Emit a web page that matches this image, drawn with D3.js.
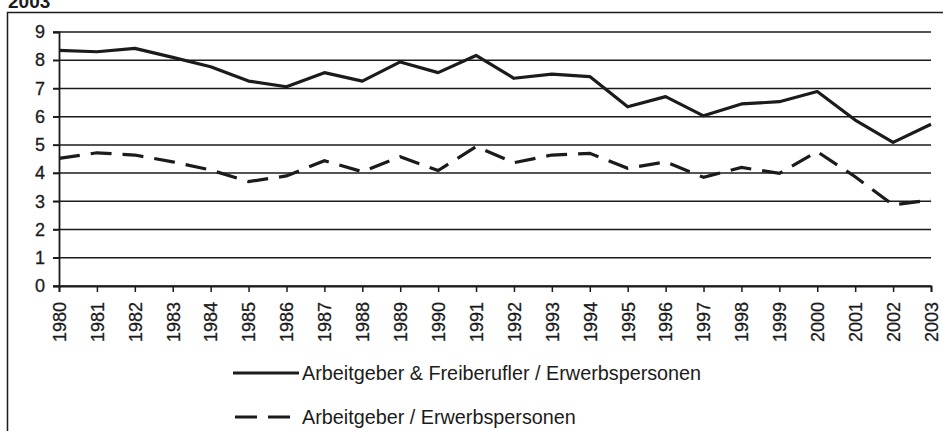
<!DOCTYPE html>
<html>
<head>
<meta charset="utf-8">
<script src="https://cdn.jsdelivr.net/npm/d3@7"></script>
<style>
	body { margin: 0; background: #fff; }
	svg { display: block; font-family: "Liberation Sans", Arial, sans-serif; }
</style>
</head>
<body>
<svg width="943" height="431"></svg>
<script>
var years = [1980, 1981, 1982, 1983, 1984, 1985, 1986, 1987, 1988, 1989, 1990, 1991,
	1992, 1993, 1994, 1995, 1996, 1997, 1998, 1999, 2000, 2001, 2002, 2003];

var freiberufler = [8.35, 8.30, 8.42, 8.10, 7.77, 7.26, 7.06, 7.56, 7.26, 7.94, 7.56, 8.17,
	7.36, 7.51, 7.42, 6.35, 6.71, 6.03, 6.45, 6.53, 6.89, 5.88, 5.09, 5.73];

var arbeitgeber = [4.52, 4.72, 4.64, 4.40, 4.11, 3.70, 3.90, 4.44, 4.05, 4.58, 4.09, 4.94,
	4.37, 4.64, 4.70, 4.17, 4.40, 3.85, 4.20, 3.99, 4.76, 3.87, 2.87, 3.05];

var yTicks = [0, 1, 2, 3, 4, 5, 6, 7, 8, 9];

var seriesNames = ["Arbeitgeber & Freiberufler / Erwerbspersonen", "Arbeitgeber / Erwerbspersonen"];

var ink = "#1b1b1b";

var svg = d3.select("svg");

// outer frame, cut off at the right and bottom like the scan
svg.append("rect")
	.attr("x", 7.5)
	.attr("y", 12.5)
	.attr("width", 960)
	.attr("height", 440)
	.attr("fill", "none")
	.attr("stroke", ink)
	.attr("stroke-width", 1.5);

// title, its top is clipped in the original scan
svg.append("text")
	.attr("x", 8)
	.attr("y", 8)
	.attr("font-size", 19)
	.attr("font-weight", "bold")
	.attr("fill", ink)
	.text("2003");

var x = d3.scalePoint()
	.domain(years)
	.range([59, 931]);

var y = d3.scaleLinear()
	.domain([0, 9])
	.range([286, 32]);

// gridlines
svg.append("g")
	.selectAll("line")
	.data(yTicks)
	.enter().append("line")
	.attr("x1", 53)
	.attr("x2", 931)
	.attr("y1", function (d) { return y(d); })
	.attr("y2", function (d) { return y(d); })
	.attr("stroke", ink)
	.attr("stroke-width", 1.5);

var yAxis = svg.append("g")
	.attr("transform", "translate(59,0)")
	.call(d3.axisLeft(y).tickValues(yTicks).tickSize(6).tickPadding(8));

var xAxis = svg.append("g")
	.attr("transform", "translate(0,286)")
	.call(d3.axisBottom(x).tickSize(6).tickPadding(6));

[yAxis, xAxis].forEach(function (a) {
	a.select(".domain").attr("stroke", ink).attr("stroke-width", 1.8);
	a.selectAll(".tick line").attr("stroke", ink).attr("stroke-width", 1.5);
	a.selectAll("text").attr("fill", ink).attr("font-family", "\"Liberation Sans\", Arial, sans-serif");
});

yAxis.selectAll("text")
	.attr("font-size", 18)
	.attr("stroke", ink)
	.attr("stroke-width", 0.3);

xAxis.selectAll("text")
	.attr("font-size", 18)
	.attr("stroke", ink)
	.attr("stroke-width", 0.3)
	.attr("transform", "rotate(-90)")
	.attr("text-anchor", "end")
	.attr("x", -16)
	.attr("y", 0)
	.attr("dy", "0.35em");

var line = d3.line()
	.x(function (d, i) { return x(years[i]); })
	.y(function (d) { return y(d); });

svg.append("path")
	.datum(freiberufler)
	.attr("d", line)
	.attr("fill", "none")
	.attr("stroke", ink)
	.attr("stroke-width", 3.2)
	.attr("stroke-linejoin", "round");

svg.append("path")
	.datum(arbeitgeber)
	.attr("d", line)
	.attr("fill", "none")
	.attr("stroke", ink)
	.attr("stroke-width", 3.2)
	.attr("stroke-dasharray", "21,11");

// legend
var legend = svg.append("g")
	.selectAll("g")
	.data(seriesNames)
	.enter().append("g")
	.attr("transform", function (d, i) { return "translate(0," + (373 + i * 44) + ")"; });

legend.append("line")
	.attr("x1", function (d, i) { return i == 0 ? 233 : 235; })
	.attr("x2", function (d, i) { return i == 0 ? 299 : 290; })
	.attr("stroke", ink)
	.attr("stroke-width", 3.2)
	.attr("stroke-dasharray", function (d, i) { return i == 0 ? null : "22,11"; });

legend.append("text")
	.attr("x", 302)
	.attr("dy", "0.35em")
	.attr("font-size", 19.8)
	.attr("fill", ink)
	.text(function (d) { return d; });
</script>
</body>
</html>
